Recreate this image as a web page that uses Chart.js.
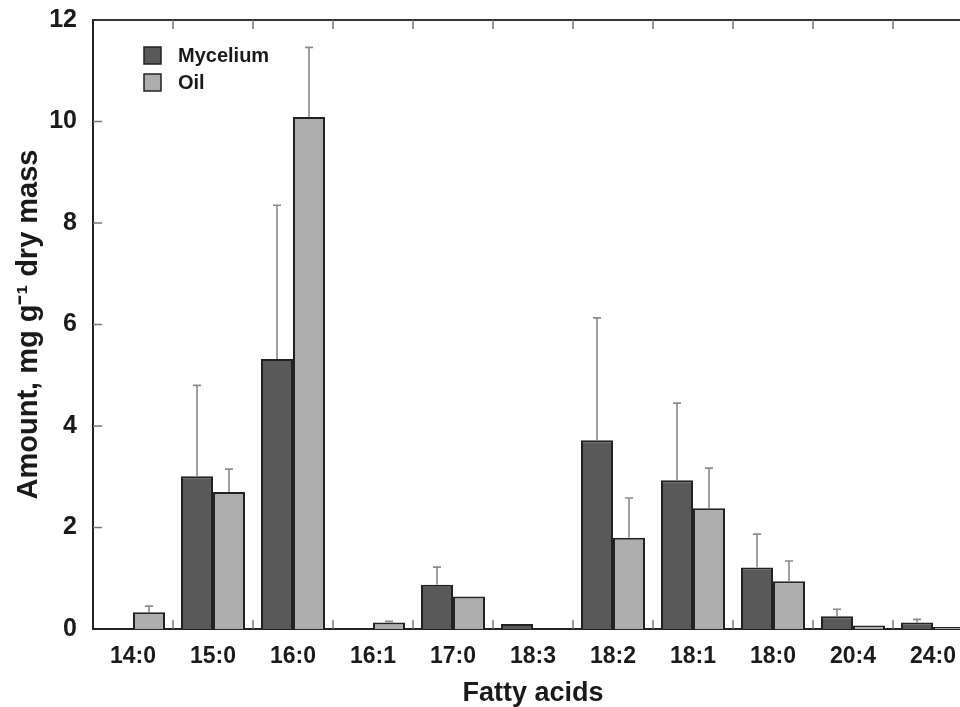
<!DOCTYPE html>
<html>
<head>
<meta charset="utf-8">
<script src="https://cdn.jsdelivr.net/npm/chart.js@4.4.1/dist/chart.umd.min.js"></script>
<style>
  html, body { margin: 0; padding: 0; background: #fff; overflow: hidden; }
  #wrap { position: absolute; left: 0; top: 0; width: 980px; height: 707px; }
</style>
</head>
<body>
<div id="wrap"><canvas id="fattyChart" width="980" height="707"></canvas></div>
<script>
// Fatty acid composition, mycelium vs oil
const categories = ['14:0', '15:0', '16:0', '16:1', '17:0', '18:3', '18:2', '18:1', '18:0', '20:4', '24:0'];
const mycelium = [0, 3.01, 5.32, 0, 0.87, 0.10, 3.72, 2.93, 1.21, 0.25, 0.13];
const myceliumErr = [0, 1.79, 3.03, 0, 0.35, 0, 2.41, 1.52, 0.66, 0.14, 0.06];
const oil = [0.33, 2.70, 10.09, 0.13, 0.64, 0, 1.80, 2.38, 0.94, 0.07, 0.04];
const oilErr = [0.12, 0.45, 1.37, 0.02, 0, 0, 0.78, 0.79, 0.40, 0, 0];
const yTicks = [0, 2, 4, 6, 8, 10, 12];

const FONT = 'Liberation Sans, Arial, Helvetica, sans-serif';

// upward error bars with a small cap
const errorBars = {
    id: 'errorBars',
    afterDatasetsDraw(chart) {
        const ctx = chart.ctx;
        const y = chart.scales.y;
        ctx.save();
        ctx.strokeStyle = '#8a8a8a';
        ctx.lineWidth = 1.6;
        chart.data.datasets.forEach((ds, i) => {
            const meta = chart.getDatasetMeta(i);
            meta.data.forEach((bar, j) => {
                const err = ds.errors[j];
                if (!err) return;
                const top = y.getPixelForValue(ds.data[j] + err);
                ctx.beginPath();
                ctx.moveTo(bar.x, bar.y);
                ctx.lineTo(bar.x, top);
                ctx.moveTo(bar.x - 4, top);
                ctx.lineTo(bar.x + 4, top);
                ctx.stroke();
            });
        });
        ctx.restore();
    }
};

// top frame line + inward tick marks
const frame = {
    id: 'frame',
    afterDraw(chart) {
        const ctx = chart.ctx;
        const a = chart.chartArea;
        const x = chart.scales.x;
        const y = chart.scales.y;
        ctx.save();
        ctx.strokeStyle = '#333';
        ctx.lineWidth = 2;
        ctx.beginPath();
        ctx.moveTo(a.left, a.top);
        ctx.lineTo(a.right, a.top);
        ctx.stroke();

        ctx.strokeStyle = '#777';
        ctx.lineWidth = 1.5;
        ctx.beginPath();
        for (let i = 1; i < categories.length; i++) {
            const px = (x.getPixelForValue(i - 1) + x.getPixelForValue(i)) / 2;
            ctx.moveTo(px, a.bottom);
            ctx.lineTo(px, a.bottom - 9);
            ctx.moveTo(px, a.top);
            ctx.lineTo(px, a.top + 9);
        }
        yTicks.forEach(v => {
            if (v === 0 || v === 12) return;
            const py = y.getPixelForValue(v);
            ctx.moveTo(a.left, py);
            ctx.lineTo(a.left + 9, py);
        });
        ctx.stroke();
        ctx.restore();
    }
};

// legend box in the upper left of the plot
const insideLegend = {
    id: 'insideLegend',
    afterDraw(chart) {
        const ctx = chart.ctx;
        ctx.save();
        ctx.font = 'bold 20px ' + FONT;
        ctx.textBaseline = 'middle';
        chart.data.datasets.forEach((ds, i) => {
            const top = 47 + i * 27;
            ctx.fillStyle = ds.backgroundColor;
            ctx.fillRect(144, top, 17, 17);
            ctx.strokeStyle = '#222';
            ctx.lineWidth = 1.5;
            ctx.strokeRect(144, top, 17, 17);
            ctx.fillStyle = '#1a1a1a';
            ctx.fillText(ds.label, 178, top + 9);
        });
        ctx.restore();
    }
};

const ctx = document.getElementById('fattyChart').getContext('2d');
const fattyChart = new Chart(ctx, {
    type: 'bar',
    data: {
        labels: categories,
        datasets: [{
            label: 'Mycelium',
            data: mycelium,
            errors: myceliumErr,
            backgroundColor: '#595959',
            borderColor: '#222',
            borderWidth: 2
        }, {
            label: 'Oil',
            data: oil,
            errors: oilErr,
            backgroundColor: '#adadad',
            borderColor: '#222',
            borderWidth: 2
        }]
    },
    plugins: [errorBars, frame, insideLegend],
    options: {
        responsive: false,
        animation: false,
        layout: { padding: { top: 20, right: 7, left: 0, bottom: 0 } },
        datasets: {
            bar: { categoryPercentage: 0.8, barPercentage: 1.0 }
        },
        plugins: {
            legend: { display: false },
            tooltip: { enabled: false }
        },
        scales: {
            x: {
                grid: { display: false, drawTicks: false },
                border: { color: '#222', width: 2 },
                ticks: {
                    color: '#1a1a1a',
                    padding: 14,
                    font: { family: FONT, size: 23, weight: 'bold' }
                },
                title: {
                    display: true,
                    text: 'Fatty acids',
                    color: '#1a1a1a',
                    padding: { top: 0, bottom: 0 },
                    font: { family: FONT, size: 27, weight: 'bold', lineHeight: 1 }
                },
                afterFit(scale) {
                    scale.height = 78;
                    scale.paddingLeft = 0;
                    scale.paddingRight = 0;
                }
            },
            y: {
                min: 0,
                max: 12,
                grid: { display: false, drawTicks: false },
                border: { color: '#222', width: 2 },
                ticks: {
                    stepSize: 2,
                    color: '#1a1a1a',
                    padding: 16,
                    font: { family: FONT, size: 25, weight: 'bold' }
                },
                title: {
                    display: true,
                    text: 'Amount, mg g\u207B\u00B9 dry mass',
                    color: '#1a1a1a',
                    padding: { top: 12, bottom: 0 },
                    font: { family: FONT, size: 29, weight: 'bold' }
                },
                afterFit(scale) {
                    scale.width = 93;
                    scale.paddingTop = 0;
                    scale.paddingBottom = 0;
                }
            }
        }
    }
});
</script>
</body>
</html>
